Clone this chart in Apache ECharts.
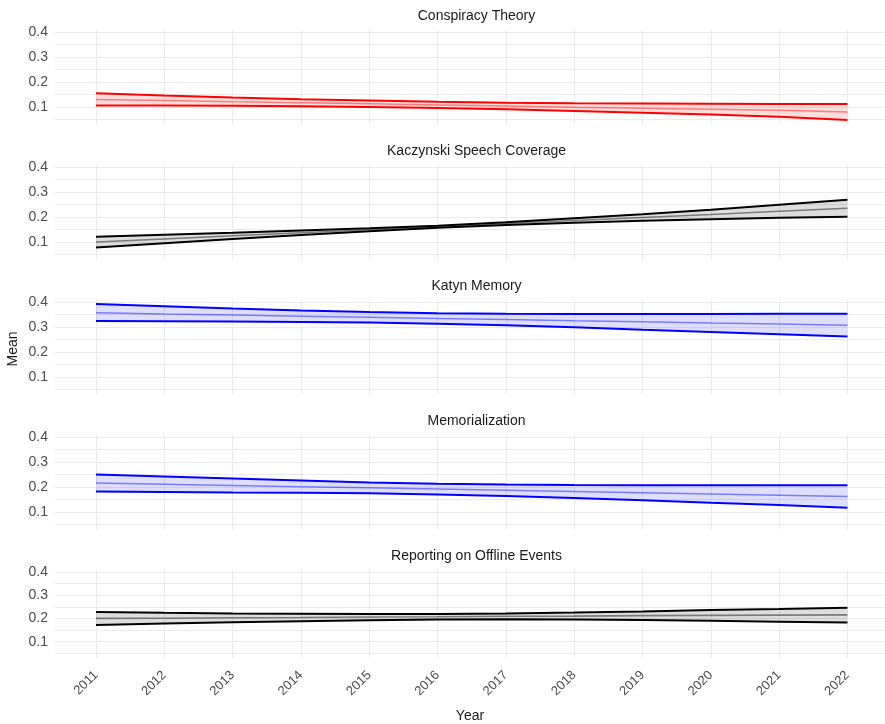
<!DOCTYPE html>
<html>
<head>
<meta charset="utf-8">
<script src="https://cdn.jsdelivr.net/npm/echarts@6/dist/echarts.min.js"></script>
<style>
  html, body { margin: 0; padding: 0; background: #fff; }
  #chart { width: 885px; height: 724px; }
</style>
</head>
<body>
<div id="chart"></div>
<script>
const years = [2011, 2012, 2013, 2014, 2015, 2016, 2017, 2018, 2019, 2020, 2021, 2022]
const yTicks = [0.1, 0.2, 0.3, 0.4]
const yGrid = [0.05, 0.1, 0.15, 0.2, 0.25, 0.3, 0.35, 0.4]

const panelTitles = ['Conspiracy Theory', 'Kaczynski Speech Coverage', 'Katyn Memory', 'Memorialization', 'Reporting on Offline Events']
const panelColors = ['#ff0000', '#000000', '#0000ff', '#0000ff', '#000000']

// predicted mean with lower / upper bounds, per panel
const conspiracyLower = [0.106, 0.106, 0.105, 0.103, 0.100, 0.096, 0.091, 0.084, 0.077, 0.070, 0.061, 0.048]
const conspiracyMean = [0.130, 0.126, 0.121, 0.117, 0.113, 0.108, 0.104, 0.099, 0.095, 0.091, 0.087, 0.080]
const conspiracyUpper = [0.155, 0.146, 0.138, 0.131, 0.126, 0.121, 0.117, 0.115, 0.114, 0.113, 0.112, 0.112]

const speechLower = [0.078, 0.095, 0.112, 0.128, 0.143, 0.157, 0.168, 0.177, 0.185, 0.191, 0.197, 0.201]
const speechMean = [0.100, 0.112, 0.125, 0.137, 0.149, 0.161, 0.174, 0.186, 0.198, 0.210, 0.223, 0.235]
const speechUpper = [0.121, 0.129, 0.137, 0.146, 0.155, 0.165, 0.179, 0.195, 0.211, 0.229, 0.249, 0.269]

const katynLower = [0.324, 0.323, 0.322, 0.320, 0.318, 0.313, 0.307, 0.299, 0.289, 0.280, 0.271, 0.262]
const katynMean = [0.357, 0.352, 0.348, 0.343, 0.339, 0.334, 0.330, 0.325, 0.321, 0.316, 0.312, 0.307]
const katynUpper = [0.392, 0.383, 0.374, 0.366, 0.360, 0.355, 0.353, 0.352, 0.352, 0.352, 0.353, 0.353]

const memorialLower = [0.182, 0.180, 0.178, 0.177, 0.175, 0.170, 0.164, 0.156, 0.147, 0.137, 0.128, 0.117]
const memorialMean = [0.216, 0.211, 0.206, 0.201, 0.197, 0.192, 0.187, 0.182, 0.177, 0.172, 0.167, 0.162]
const memorialUpper = [0.250, 0.242, 0.234, 0.226, 0.218, 0.213, 0.210, 0.208, 0.207, 0.207, 0.207, 0.207]

const offlineLower = [0.172, 0.178, 0.184, 0.188, 0.192, 0.195, 0.196, 0.195, 0.193, 0.190, 0.186, 0.182]
const offlineMean = [0.200, 0.201, 0.203, 0.204, 0.206, 0.207, 0.209, 0.210, 0.212, 0.213, 0.214, 0.215]
const offlineUpper = [0.228, 0.224, 0.221, 0.220, 0.219, 0.219, 0.221, 0.225, 0.230, 0.236, 0.240, 0.246]

const panels = [
  [conspiracyLower, conspiracyMean, conspiracyUpper],
  [speechLower, speechMean, speechUpper],
  [katynLower, katynMean, katynUpper],
  [memorialLower, memorialMean, memorialUpper],
  [offlineLower, offlineMean, offlineUpper],
]

const font = 'Liberation Sans, Arial, sans-serif'
const gridColor = '#ebebeb'
const left = 55
const plotW = 830
const top0 = 29.5
const step = 135
const plotH = 95

const chart = echarts.init(document.getElementById('chart'), null, { renderer: 'canvas' })

function pairs(arr) {
  return years.map((y, i) => [y, arr[i]])
}

// one polygon for the whole band, drawn from the first item
function renderBand(params, api) {
  if (params.dataIndexInside !== 0) return
  const n = params.dataInsideLength
  const top = []
  const bottom = []
  for (let k = 0; k < n; k++) {
    const x = api.value(0, k)
    top.push(api.coord([x, api.value(2, k)]))
    bottom.unshift(api.coord([x, api.value(1, k)]))
  }
  return {
    type: 'polygon',
    shape: { points: top.concat(bottom) },
    style: { fill: api.visual('color') },
    silent: true,
  }
}

const grids = []
const xAxes = []
const yAxes = []
const titles = []
const series = []

panels.forEach((p, i) => {
  const [lower, mean, upper] = p
  const color = panelColors[i]
  const last = i === panels.length - 1
  grids.push({ left: left, width: plotW, top: top0 + step * i, height: plotH })
  titles.push({
    text: panelTitles[i],
    left: left + 833 / 2,
    top: top0 + step * i - 25,
    textAlign: 'center',
    textStyle: { fontFamily: font, fontSize: 14, fontWeight: 'normal', color: '#1a1a1a' },
  })
  xAxes.push({
    type: 'value',
    gridIndex: i,
    min: 2010.4,
    max: 2022.55,
    axisLine: { show: false },
    axisTick: { show: false, customValues: years },
    splitLine: { show: true, lineStyle: { color: gridColor, width: 1 } },
    axisLabel: {
      show: last,
      customValues: years,
      rotate: 45,
      margin: 15,
      fontFamily: font,
      fontSize: 13,
      color: '#4d4d4d',
      formatter: v => String(v),
    },
    name: last ? 'Year' : '',
    nameLocation: 'middle',
    nameGap: 51,
    nameTextStyle: { fontFamily: font, fontSize: 14, color: '#1a1a1a' },
  })
  yAxes.push({
    type: 'value',
    gridIndex: i,
    min: 0.03,
    max: 0.41,
    axisLine: { show: false },
    axisTick: { show: false, customValues: yGrid },
    splitLine: { show: true, lineStyle: { color: gridColor, width: 1 } },
    axisLabel: {
      customValues: yTicks,
      margin: 7,
      fontFamily: font,
      fontSize: 14,
      color: '#4d4d4d',
      formatter: v => v.toFixed(1),
    },
  })
  series.push({
    type: 'custom',
    xAxisIndex: i,
    yAxisIndex: i,
    data: years.map((y, k) => [y, lower[k], upper[k]]),
    encode: { x: 0, y: [1, 2] },
    renderItem: renderBand,
    itemStyle: { color: echarts.color.modifyAlpha(color, 0.13) },
    clip: true,
    z: 1,
  })
  series.push({
    type: 'line',
    xAxisIndex: i,
    yAxisIndex: i,
    data: pairs(mean),
    symbol: 'none',
    lineStyle: { color: color, width: 1.6, opacity: 0.45 },
    z: 2,
  })
  ;[lower, upper].forEach(arr => {
    series.push({
      type: 'line',
      xAxisIndex: i,
      yAxisIndex: i,
      data: pairs(arr),
      symbol: 'none',
      lineStyle: { color: color, width: 2 },
      z: 3,
    })
  })
})

chart.setOption({
  animation: false,
  title: titles,
  grid: grids,
  xAxis: xAxes,
  yAxis: yAxes,
  series: series,
  graphic: [
    {
      type: 'text',
      x: 13,
      y: 349,
      rotation: Math.PI / 2,
      style: {
        text: 'Mean',
        fontFamily: font,
        fontSize: 14,
        fill: '#1a1a1a',
        align: 'center',
        verticalAlign: 'middle',
      },
    },
  ],
})
</script>
</body>
</html>
